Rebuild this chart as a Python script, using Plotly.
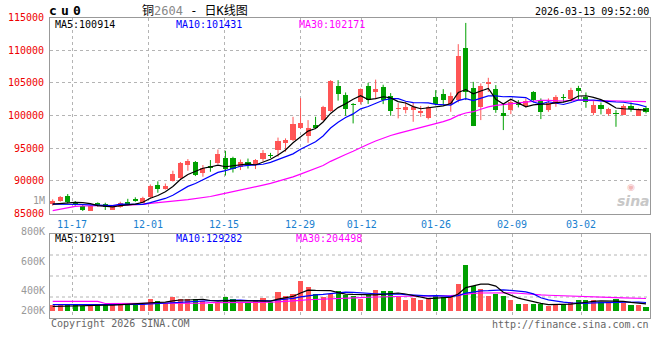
import plotly.graph_objects as go
import pandas as pd

# ---------------- data ----------------
opens = [86410, 86960, 87680, 86680, 86190, 85430, 86650, 86450, 85610, 86070,
         86800, 87290, 86650, 87490, 89360, 88820, 90000, 90400, 92450, 92880,
         91240, 92290, 92720, 93440, 93440, 92110, 92910, 92420, 93330, 93870,
         94710, 95810, 96240, 98100, 96900, 98560, 99300, 100670, 104530, 103120,
         101620, 102000, 104470, 103620, 104390, 102970, 100930, 100830, 100860, 100440,
         99680, 102860, 103270, 101790, 102360, 110350, 104240, 101330, 104800, 104040,
         100410, 100830, 102000, 101440, 103580, 102360, 100830, 101700, 102860, 102510,
         104240, 102860, 100410, 101590, 100210, 100320, 100060, 101440, 99960, 101180]
highs = [87170, 87680, 87980, 86910, 86300, 86190, 86700, 86650, 86300, 86800,
         87250, 87480, 87570, 89440, 89920, 89590, 91550, 92880, 93330, 93030,
         92420, 93180, 94790, 94600, 93690, 93260, 93410, 93330, 94710, 94280,
         96620, 96500, 99800, 102660, 99300, 99800, 101480, 105410, 105410, 103530,
         101900, 104140, 105000, 105490, 104710, 103430, 101900, 102080, 101970, 101470,
         101470, 103880, 104040, 103530, 110920, 114170, 105150, 104910, 105770, 104650,
         101590, 102360, 102360, 102620, 103730, 102620, 102620, 103120, 103270, 104240,
         104540, 103530, 102200, 102000, 101180, 100830, 101700, 102000, 101090, 101480]
lows = [86190, 86800, 86560, 86190, 85380, 85380, 86050, 85540, 85540, 85890,
        86220, 86800, 86560, 87370, 88180, 88670, 89890, 90310, 91550, 90730,
        90630, 91390, 92570, 90810, 91270, 91650, 91880, 91800, 92980, 93490,
        93690, 94450, 96090, 97920, 95830, 97920, 99190, 100570, 102280, 99960,
        98790, 101700, 101770, 102510, 101740, 99960, 99560, 100320, 99040, 99800,
        99400, 101550, 101590, 100570, 102000, 102360, 98380, 99300, 103620, 100410,
        97770, 100210, 101240, 101240, 102000, 99450, 100570, 101330, 102000, 102100,
        102360, 101180, 100060, 100170, 99960, 98270, 100060, 100570, 99960, 100320]
closes = [86960, 87570, 86800, 86450, 85540, 86150, 86150, 86040, 86190, 86560,
          86480, 86960, 87420, 89210, 88750, 89280, 91040, 92720, 93070, 90890,
          91910, 92030, 94100, 91850, 91770, 92920, 92390, 93210, 94280, 93760,
          96090, 96320, 98720, 98880, 98040, 98070, 101330, 105290, 103300, 100980,
          101550, 104040, 102360, 104040, 102360, 100670, 101180, 101330, 101240, 100750,
          101320, 101740, 102360, 103010, 109130, 103620, 98430, 104540, 105060, 100830,
          99960, 102000, 101590, 102250, 102360, 100570, 101850, 102860, 102620, 103880,
          103730, 102000, 101590, 100980, 100980, 100170, 101440, 100980, 100930, 100570]
volumes = [91000, 91000, 107000, 107000, 75000, 75000, 107000, 107000, 107000, 107000,
           117000, 117000, 117000, 187000, 155000, 133000, 219000, 187000, 187000, 187000,
           160000, 117000, 144000, 219000, 187000, 144000, 144000, 155000, 203000, 144000,
           299000, 240000, 277000, 475000, 379000, 277000, 224000, 277000, 315000, 261000,
           245000, 197000, 251000, 331000, 315000, 315000, 229000, 171000, 213000, 171000,
           213000, 261000, 219000, 235000, 427000, 731000, 395000, 357000, 240000, 267000,
           245000, 171000, 107000, 107000, 117000, 107000, 75000, 117000, 107000, 149000,
           171000, 171000, 171000, 144000, 133000, 187000, 133000, 91000, 91000, 64000]

# moving-average values before a full window exists
ma5_head = [86450, 86550, 86700, 86700]
ma10_head = [86450, 86460, 86450, 86420, 86380, 86330, 86290, 86250, 86220]
ma30_head = [85430, 85640, 85950, 86100, 86150, 86190, 86200, 86210, 86220, 86240,
             86260, 86300, 86400, 86560, 86650, 86750, 86870, 87000, 87130, 87250,
             87400, 87600, 87850, 88100, 88300, 88500, 88800, 89050, 89350]
vma5_head = [72000, 75000, 80000, 85000]
vma10_head = [101000, 101000, 101000, 100000, 100000, 99000, 99000, 98000, 98000]
vma30_head = [155000] * 7 + [120000] * 6 + [125000] * 8 + [133000] * 8

date_labels = ["11-17", "12-01", "12-15", "12-29", "01-12", "01-26", "02-09", "03-02"]
date_index = [3, 13, 23, 33, 41, 51, 61, 70]

price_ticks = [85000, 90000, 95000, 100000, 105000, 110000, 115000]
vol_tick_text = ["800K", "600K", "400K", "200K"]

title_code = ["c", "u", "0"]
title_name = "铜<span style='color:#888'>2604</span> - 日K线图"
stamp = "2026-03-13 09:52:00"
ma_price_text = ["MA5:100914", "MA10:101431", "MA30:102171"]
ma_vol_text = ["MA5:102191", "MA10:129282", "MA30:204498"]

# ---------------- derived ----------------
n = len(closes)
idx = list(range(n))


def rolling(vals, w, head):
    r = pd.Series(vals, dtype=float).rolling(w).mean().tolist()
    r[:len(head)] = head
    return r


ma5 = rolling(closes, 5, ma5_head)
ma10 = rolling(closes, 10, ma10_head)
ma30 = rolling(closes, 30, ma30_head)
vma5 = rolling(volumes, 5, vma5_head)
vma10 = rolling(volumes, 10, vma10_head)
vma30 = rolling(volumes, 30, vma30_head)

RED = "#ff5555"
GREEN = "#00a000"
up = [c >= o for o, c in zip(opens, closes)]
colors = [RED if u else GREEN for u in up]

body_base = [min(o, c) for o, c in zip(opens, closes)]
body_h = [max(abs(c - o), 160) for o, c in zip(opens, closes)]

fig = go.Figure()

# wicks
for flag, col in ((True, RED), (False, GREEN)):
    xs, ys = [], []
    for i in idx:
        if up[i] == flag:
            xs += [i, i, None]
            ys += [lows[i], highs[i], None]
    fig.add_trace(go.Scatter(x=xs, y=ys, mode="lines", line=dict(color=col, width=1),
                             hoverinfo="skip", showlegend=False, xaxis="x", yaxis="y"))

# bodies
fig.add_trace(go.Bar(x=idx, y=body_h, base=body_base, marker=dict(color=colors, line=dict(width=0)),
                     width=0.68, showlegend=False, xaxis="x", yaxis="y"))

# MAs
for series, col in ((ma30, "#ff00ff"), (ma10, "#0000ff"), (ma5, "#000000")):
    fig.add_trace(go.Scatter(x=idx, y=series, mode="lines", line=dict(color=col, width=1.2),
                             showlegend=False, xaxis="x", yaxis="y"))

# volume
fig.add_trace(go.Bar(x=idx, y=volumes, marker=dict(color=colors, line=dict(width=0)), width=0.68,
                     showlegend=False, xaxis="x2", yaxis="y2"))
for series, col in ((vma30, "#ff00ff"), (vma10, "#0000ff"), (vma5, "#000000")):
    fig.add_trace(go.Scatter(x=idx, y=series, mode="lines", line=dict(color=col, width=1.2),
                             showlegend=False, xaxis="x2", yaxis="y2"))

# ---------------- layout ----------------
W, H = 660, 360


def px(x):
    return x / W


def py(y):
    return 1 - y / H


MONO = "DejaVu Sans Mono"
tick_offsets = [-0.43, -0.31, -0.19, -0.07, 0.15, 0.04, 0.16, 0.35]
tickvals = [d + o for d, o in zip(date_index, tick_offsets)]
xrange_ = [-0.36, 79.53]
GRID = "#b4b4b4"
BORDER = "#999999"

vol_per_px = 16000
vol_base_y = 311
vol_label_y = [231, 261, 290, 310]
vol_grid_y = [255, 276, 297]

axis_common = dict(showline=True, mirror=True, linecolor=BORDER, linewidth=1, zeroline=False,
                   ticks="", fixedrange=True, automargin=False)

fig.update_layout(
    template="none",
    width=W, height=H, margin=dict(l=0, r=0, t=0, b=0, pad=0),
    paper_bgcolor="white", plot_bgcolor="white", bargap=0,
    font=dict(family=MONO, size=10, color="#000"),
    xaxis=dict(domain=[px(50), px(650)], anchor="y", range=xrange_, tickmode="array",
               tickvals=tickvals, ticktext=date_labels,
               tickfont=dict(color="#1a7fcf", size=10, family=MONO),
               showgrid=True, gridcolor=GRID, griddash="dot", gridwidth=1, ticklabelstandoff=1,
               **axis_common),
    yaxis=dict(domain=[py(214), py(17.5)], anchor="x", range=[84924, 115000], tickmode="array",
               tickvals=price_ticks, ticktext=[str(v) for v in price_ticks],
               tickfont=dict(color="#ee0000", size=10, family=MONO),
               showgrid=True, gridcolor=GRID, griddash="dot", ticklabelstandoff=3,
               **axis_common),
    xaxis2=dict(domain=[px(50), px(650)], anchor="y2", range=xrange_, tickmode="array",
                tickvals=tickvals, showticklabels=False,
                showgrid=True, gridcolor=GRID, griddash="dot", **axis_common),
    yaxis2=dict(domain=[py(318), py(234)], anchor="x2",
                range=[-(318 - vol_base_y) * vol_per_px, (vol_base_y - 234) * vol_per_px],
                showticklabels=False, showgrid=False, **axis_common),
)

for y in vol_grid_y:
    v = (vol_base_y - y) * vol_per_px
    fig.add_shape(type="line", xref="x2", yref="y2", x0=xrange_[0], x1=xrange_[1], y0=v, y1=v,
                  line=dict(color=GRID, width=1, dash="dot"), layer="below")

ann = []


def text(x, y, s, color="#000", size=10, anchor="left", family=MONO, **kw):
    ann.append(dict(x=px(x), y=py(y), xref="paper", yref="paper", text=s, showarrow=False,
                    xanchor=anchor, yanchor="middle", font=dict(color=color, size=size, family=family),
                    **kw))


for s, y in zip(vol_tick_text, vol_label_y):
    text(47, y, s, color="#999", anchor="right")

for ch, x in zip(title_code, [53, 64.5, 76.5]):
    text(x, 10.5, "<b>" + ch + "</b>", size=13, anchor="center")
text(195, 10.5, title_name, size=12, anchor="center", family="DejaVu Sans Mono, Noto Sans CJK SC")
text(651, 12, stamp, anchor="right")
ma_cols = ["#000000", "#0000ff", "#ff00ff"]
for s, x, c in zip(ma_price_text, [53, 174, 297], ma_cols):
    text(x, 24.5, s, color=c)
for s, x, c in zip(ma_vol_text, [53, 174, 294], ma_cols):
    text(x, 238.5, s, color=c)
text(47, 200, "1M", color="#999", anchor="right")
text(49, 323.5, "Copyright 2026 SINA.COM", color="#666", anchor="left")
text(651, 324, "http://finance.sina.com.cn", color="#666", anchor="right")
text(633, 201, "<b><i>sina</i></b>", color="#c8c8c8", size=14, anchor="center",
     family="DejaVu Sans")
text(631, 187, "◉", color="#f2b8b8", size=9, anchor="center", family="DejaVu Sans")
fig.update_layout(annotations=ann)

fig.write_html("out.html", config={"displayModeBar": False, "staticPlot": True},
               post_script="document.body.style.margin='0';document.body.style.padding='0';")
